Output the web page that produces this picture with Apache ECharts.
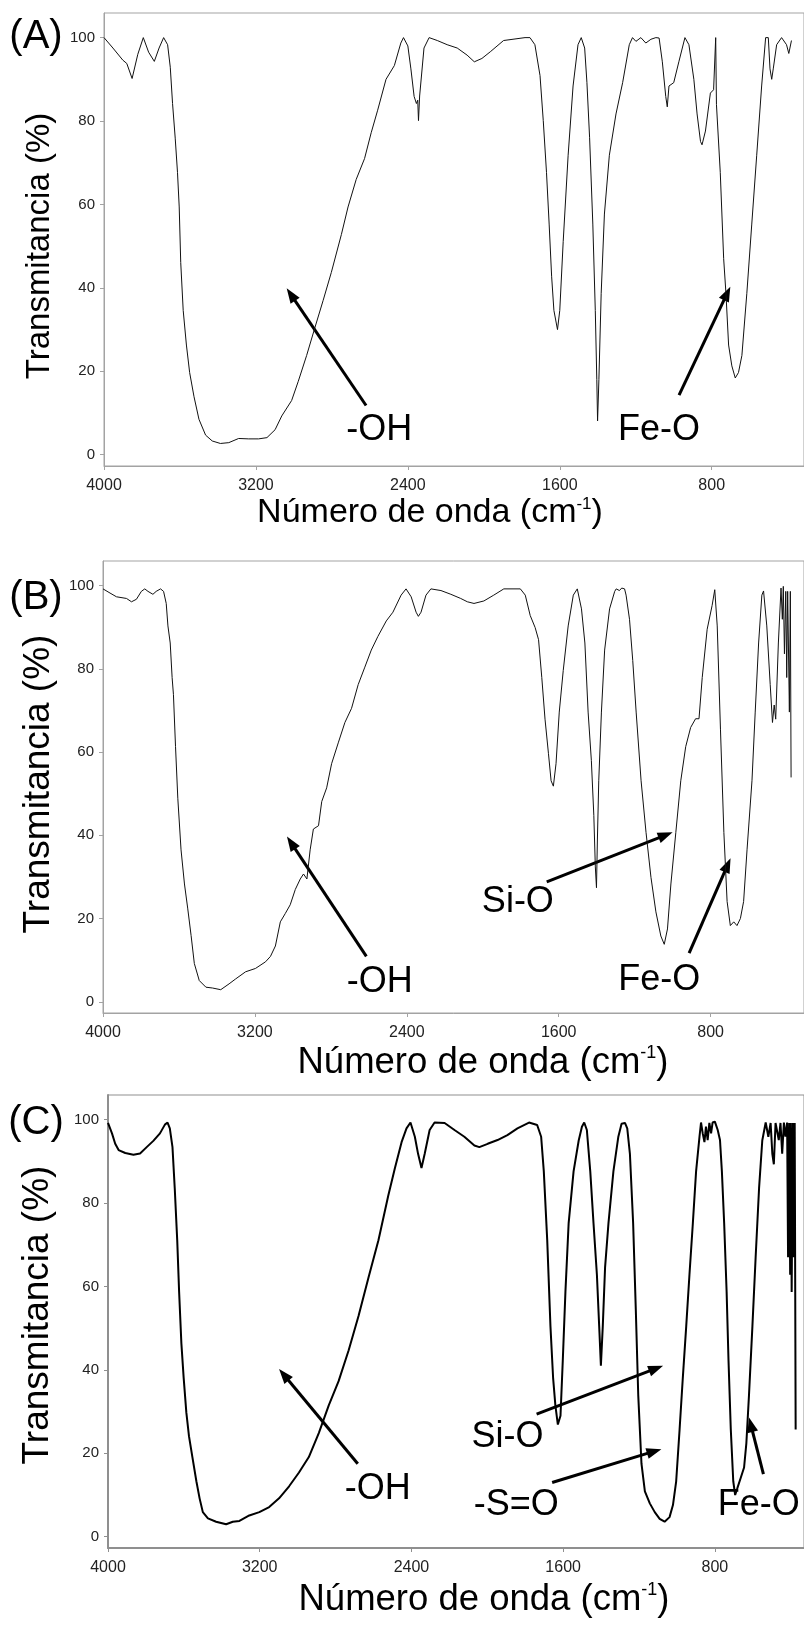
<!DOCTYPE html>
<html>
<head>
<meta charset="utf-8">
<script src="https://cdn.jsdelivr.net/npm/echarts@6/dist/echarts.min.js"></script>
<style>
html,body{margin:0;padding:0;background:#fff;}
#chart{width:804px;height:1625px;}
</style>
</head>
<body>
<div id="chart"></div>
<script>
// ---------- tick labels ----------
const xTicks = [4000, 3200, 2400, 1600, 800];
const yTicks = [0, 20, 40, 60, 80, 100];
const panelLetters = ['(A)', '(B)', '(C)'];
const yTitle = 'Transmitancia (%)';
const xTitleMain = 'Número de onda (cm';
const xTitleSup = '-1';

// ---------- spectrum A ----------
const wnA = [4000,3953,3901,3880,3852,3822,3793,3765,3735,3710,3686,3665,3651,3639,3625,3613,3604,3596,3583,3566,3549,3526,3500,3465,3430,3387,3343,3291,3238,3186,3142,3099,3064,3012,2977,2933,2890,2846,2803,2750,2715,2672,2628,2593,2559,2515,2471,2437,2423,2400,2384,2367,2355,2348,2344,2338,2315,2288,2245,2193,2140,2088,2050,2010,1966,1896,1783,1757,1731,1704,1687,1670,1656,1643,1631,1612,1600,1582,1556,1530,1504,1487,1469,1457,1443,1426,1413,1405,1401,1394,1382,1365,1339,1304,1269,1234,1217,1199,1173,1147,1120,1094,1077,1060,1042,1034,1025,1000,973,941,920,894,877,859,851,833,807,790,779,775,755,737,725,711,694,676,659,641,615,589,563,537,516,502,493,484,476,458,432,406,394,380];
const tA = [100,97.5,94.6,93.8,90.2,96.0,100,96.5,94.3,97.5,100,98.3,92.9,84.2,75.9,67.7,59.4,46.1,34.6,26.3,19.7,13.9,8.5,4.7,3.3,2.7,2.9,3.9,3.8,3.8,4.1,6.0,9.3,13.0,17.6,23.8,30.4,37.0,43.7,52.8,59.4,66.0,71.0,77.2,82.6,90.0,93.3,98.7,100,98.0,92.5,85.9,84.2,85.0,80.1,86.0,97.5,100,99.3,98.3,97.5,95.8,94.2,95.0,96.6,99.3,100,100,98.3,90.9,80.1,67.7,55.3,42.8,34.6,30.0,34.6,51.1,71.8,88.4,98.3,100,97.5,89.2,76.0,55.3,34.6,18.0,8.1,18.0,38.7,57.7,71.8,81.7,89.2,98.3,100,99.1,100,98.7,99.6,100,99.9,94.2,85.9,83.4,88.4,89.2,94.2,100,98.3,90.0,81.7,75.1,74.3,77.6,86.7,87.5,100,84.0,67.7,47.0,38.7,26.3,21.3,18.4,19.7,23.8,38.7,55.3,71.8,88.4,100,100,92.5,90.0,92.5,98.3,100,98.3,96.2,99.3];

// ---------- spectrum B ----------
const wnB = [4000,3963,3929,3876,3850,3824,3798,3780,3763,3737,3720,3697,3681,3667,3658,3646,3636,3629,3618,3606,3589,3571,3554,3536,3519,3493,3458,3423,3380,3336,3301,3249,3197,3144,3118,3092,3066,3040,3014,2987,2961,2944,2926,2909,2892,2865,2848,2822,2796,2761,2726,2691,2656,2621,2587,2552,2508,2473,2430,2404,2377,2351,2339,2325,2299,2273,2220,2168,2116,2081,2046,1994,1942,1889,1802,1776,1750,1724,1706,1689,1672,1654,1640,1628,1614,1597,1576,1550,1523,1502,1480,1462,1445,1428,1415,1407,1401,1396,1389,1375,1358,1332,1305,1297,1280,1268,1253,1245,1227,1210,1192,1166,1140,1114,1088,1062,1044,1027,1009,983,957,931,905,879,861,844,818,792,778,765,748,730,713,696,678,661,643,626,608,582,565,547,530,521,504,486,474,465,457,443,429,422,417,411,404,399,394,385,380,376];
const tB = [99.2,98.2,97.3,96.9,96.1,96.7,98.6,99.2,98.6,97.9,98.6,99.2,98.6,95.7,90.3,86.2,77.9,73.8,61.3,48.9,36.5,28.3,22.5,15.9,9.2,5.1,3.5,3.3,2.9,4.3,5.5,7.2,8.0,9.6,10.9,13.4,19.2,21.2,23.3,27.0,29.5,30.7,29.5,36.5,41.5,42.3,48.1,51.4,57.2,62.2,67.1,70.5,76.2,80.4,84.5,87.8,91.5,93.6,97.7,99.2,97.3,93.6,92.6,93.6,97.7,99.2,98.8,97.9,96.9,96.1,95.7,96.3,97.7,99.2,99.2,97.7,92.8,89.9,87.0,77.9,67.9,59.7,53.1,51.8,57.2,69.6,79.6,90.3,97.7,99.2,94.4,86.2,69.6,58.0,44.8,32.4,27.4,39.1,53.1,69.6,84.5,94.4,98.6,99.2,98.8,99.4,99.2,97.7,91.9,82.0,69.6,53.1,40.7,29.9,21.6,15.8,13.8,17.5,28.3,40.7,53.1,61.3,65.9,68.0,68.0,77.9,89.5,95.2,99.0,90.3,65.5,40.7,24.1,18.3,19.2,18.3,20.0,24.1,36.5,53.1,69.6,86.2,97.7,98.7,90.3,76.2,67.1,71.3,67.9,86.2,99.4,91.9,99.8,83.6,98.6,77.9,98.6,69.6,98.6,53.9];

// ---------- spectrum C ----------
const wnC = [4000,3979,3962,3944,3909,3866,3831,3796,3761,3726,3700,3686,3674,3660,3648,3635,3625,3613,3601,3587,3573,3555,3534,3517,3500,3473,3430,3377,3342,3307,3255,3202,3150,3098,3045,2993,2941,2888,2836,2784,2731,2679,2627,2574,2522,2487,2452,2426,2405,2382,2365,2347,2330,2304,2278,2225,2173,2121,2068,2042,1998,1946,1894,1841,1780,1737,1716,1702,1684,1667,1653,1641,1628,1614,1602,1588,1571,1545,1518,1501,1489,1475,1457,1440,1422,1410,1401,1391,1379,1361,1335,1309,1292,1274,1262,1248,1231,1217,1204,1187,1169,1143,1117,1091,1065,1039,1021,1004,986,969,951,934,916,899,881,873,864,855,847,838,829,820,812,800,785,773,763,751,738,728,716,703,693,681,663,646,634,620,602,585,567,550,532,518,506,497,489,480,463,454,445,436,428,419,414,408,403,400,395,389,384,379,374];
const tC = [99.2,96.7,94.2,92.7,92.0,91.6,91.9,93.4,94.9,96.7,98.8,99.3,97.9,93.4,83.5,71.1,58.7,46.3,38.1,29.8,24.1,19.1,13.3,9.2,5.9,4.4,3.6,3.0,3.6,3.8,5.1,5.9,7.1,9.2,12.1,15.4,19.1,24.9,31.5,37.3,44.7,52.9,62.0,71.1,81.8,88.4,94.6,97.9,99.3,95.9,91.8,88.4,91.8,97.5,99.3,99.2,97.5,95.9,93.8,93.4,94.2,95.1,96.3,97.9,99.3,98.7,95.9,87.6,71.1,50.5,38.1,31.5,26.9,29.0,42.2,58.7,75.2,87.6,95.0,98.3,99.3,97.5,87.6,75.2,62.8,50.5,41.0,50.5,64.5,75.2,87.6,95.9,99.0,99.2,97.9,91.8,75.2,54.6,33.9,17.5,10.9,8.0,5.9,4.3,3.6,4.7,7.6,13.3,25.7,38.1,50.5,62.8,75.2,87.6,95.9,99.3,96.7,94.6,98.3,95.1,99.2,96.7,99.3,99.5,97.5,95.1,87.6,75.2,58.7,42.2,25.7,13.3,10.0,11.7,14.2,16.6,22.4,34.0,50.5,67.0,83.5,95.0,99.3,95.9,99.2,91.8,89.3,99.2,95.1,99.2,91.8,99.3,95.9,99.3,67.0,99.2,62.8,99.2,58.7,99.2,67.0,99.2,25.7];

// ---------- annotations (data coordinates: wavenumber, %T) ----------
const labelsA = [{text:'-OH', wn:2550, t:5.8}, {text:'Fe-O', wn:1077, t:5.8}];
const arrowsA = [{from:[2620,11.8], to:[3038,39.9]}, {from:[972,14.3], to:[702,40.3]}];
const labelsB = [{text:'-OH', wn:2543, t:4.7}, {text:'Si-O', wn:1815, t:23.9}, {text:'Fe-O', wn:1070, t:5.3}];
const arrowsB = [{from:[2613,10.9], to:[3031,39.7]}, {from:[1663,28.8], to:[1000,40.7]}, {from:[913,11.7], to:[695,34.5]}];
const labelsC = [{text:'-OH', wn:2578, t:11.5}, {text:'Si-O', wn:1894, t:23.9}, {text:'-S=O', wn:1847, t:7.6}, {text:'Fe-O', wn:785, t:7.5, align:'left'}];
const arrowsC = [{from:[2683,17.5], to:[3098,40.2]}, {from:[1740,29.4], to:[1073,41.0]}, {from:[1658,13.0], to:[1082,21.0]}, {from:[544,15.0], to:[620,28.6]}];

// ---------- layout ----------
const FONT = '"Liberation Sans", Arial, Helvetica, sans-serif';
const panels = [
  {wn:wnA, t:tA, labels:labelsA, arrows:arrowsA, grid:{left:104, top:13, width:705, height:453}, xMin:314, line:1, axisW:1, axisC:'#a3a3a3', curveC:'#111',
   letter:[36, 37], yTitle:[40, 246, 33], xTitle:[430, 513, 34]},
  {wn:wnB, t:tB, labels:labelsB, arrows:arrowsB, grid:{left:103, top:561, width:706, height:452}, xMin:308, line:1, axisW:1, axisC:'#a3a3a3', curveC:'#111',
   letter:[36, 598], yTitle:[39, 784, 37], xTitle:[483, 1063, 36.5]},
  {wn:wnC, t:tC, labels:labelsC, arrows:arrowsC, grid:{left:108, top:1095, width:701, height:453}, xMin:330, line:2, axisW:2, axisC:'#8f8f8f', curveC:'#000',
   letter:[36, 1123], yTitle:[38, 1315, 37], xTitle:[484, 1600, 36.5]}
];

const chart = echarts.init(document.getElementById('chart'), null, {renderer:'canvas'});

const plainNum = v => String(Math.round(v));

const option = {
  animation:false,
  backgroundColor:'#ffffff',
  grid: panels.map(p => Object.assign({show:true, borderColor:p.axisC, borderWidth:1, backgroundColor:'transparent', containLabel:false}, p.grid)),
  xAxis: panels.map((p, i) => ({
    type:'value', gridIndex:i, inverse:true, min:p.xMin, max:4000,
    axisLine:{show:true, onZero:false, lineStyle:{color:p.axisC, width:p.axisW}},
    axisTick:{show:true, inside:false, length:4, customValues:xTicks, lineStyle:{color:p.axisC, width:1}},
    axisLabel:{show:true, customValues:xTicks, formatter:plainNum, margin:12, fontSize:16, color:'#222', fontFamily:FONT},
    splitLine:{show:false}
  })),
  yAxis: panels.map((p, i) => ({
    type:'value', gridIndex:i, min:-2.7, max:105.9,
    axisLine:{show:true, onZero:false, lineStyle:{color:p.axisC, width:p.axisW}},
    axisTick:{show:true, inside:false, length:4, customValues:yTicks, lineStyle:{color:p.axisC, width:1}},
    axisLabel:{show:true, customValues:yTicks, formatter:plainNum, margin:9, fontSize:15, color:'#222', fontFamily:FONT},
    splitLine:{show:false}
  })),
  series: panels.map((p, i) => ({
    type:'line', xAxisIndex:i, yAxisIndex:i, showSymbol:false, symbol:'none', smooth:false,
    lineStyle:{color:p.curveC, width:p.line}, silent:true,
    data: p.wn.map((w, k) => [w, p.t[k]])
  }))
};
chart.setOption(option);

function arrowEls(p0, p1) {
  const dx = p1[0]-p0[0], dy = p1[1]-p0[1];
  const len = Math.hypot(dx, dy), ux = dx/len, uy = dy/len;
  const L = 15, W = 5.5;
  const bx = p1[0]-ux*L, by = p1[1]-uy*L;
  return [
    {type:'line', silent:true, shape:{x1:p0[0], y1:p0[1], x2:bx+ux*2, y2:by+uy*2}, style:{stroke:'#000', lineWidth:3}},
    {type:'polygon', silent:true, shape:{points:[[p1[0],p1[1]],[bx-uy*W, by+ux*W],[bx+uy*W, by-ux*W]]}, style:{fill:'#000'}}
  ];
}

function textEl(txt, x, y, size, align, rot) {
  return {type:'text', silent:true, x:x, y:y, rotation:rot||0,
    style:{text:txt, font:size+'px '+FONT, fill:'#000', align:align||'center', verticalAlign:'middle', textAlign:align||'center', textVerticalAlign:'middle'}};
}

const graphics = [];
panels.forEach((p, i) => {
  p.arrows.forEach(a => {
    const p0 = chart.convertToPixel({gridIndex:i}, a.from);
    const p1 = chart.convertToPixel({gridIndex:i}, a.to);
    arrowEls(p0, p1).forEach(e => graphics.push(e));
  });
  p.labels.forEach(l => {
    const q = chart.convertToPixel({gridIndex:i}, [l.wn, l.t]);
    graphics.push(textEl(l.text, q[0], q[1], 36, l.align));
  });
  graphics.push(textEl(panelLetters[i], p.letter[0], p.letter[1], 40));
  graphics.push(textEl(yTitle, p.yTitle[0], p.yTitle[1], p.yTitle[2], 'center', Math.PI/2));
  const fs = p.xTitle[2];
  graphics.push({type:'text', silent:true, x:p.xTitle[0], y:p.xTitle[1],
    style:{text:'{a|'+xTitleMain+'}{b|'+xTitleSup+'}{a|)}', fill:'#000', align:'center', verticalAlign:'middle', textAlign:'center', textVerticalAlign:'middle',
      rich:{a:{fontSize:fs, fontFamily:FONT, fill:'#000', color:'#000'}, b:{fontSize:Math.round(fs*0.5), fontFamily:FONT, fill:'#000', color:'#000', verticalAlign:'top'}}}});
});
chart.setOption({graphic:{elements:graphics}});
</script>
</body>
</html>
